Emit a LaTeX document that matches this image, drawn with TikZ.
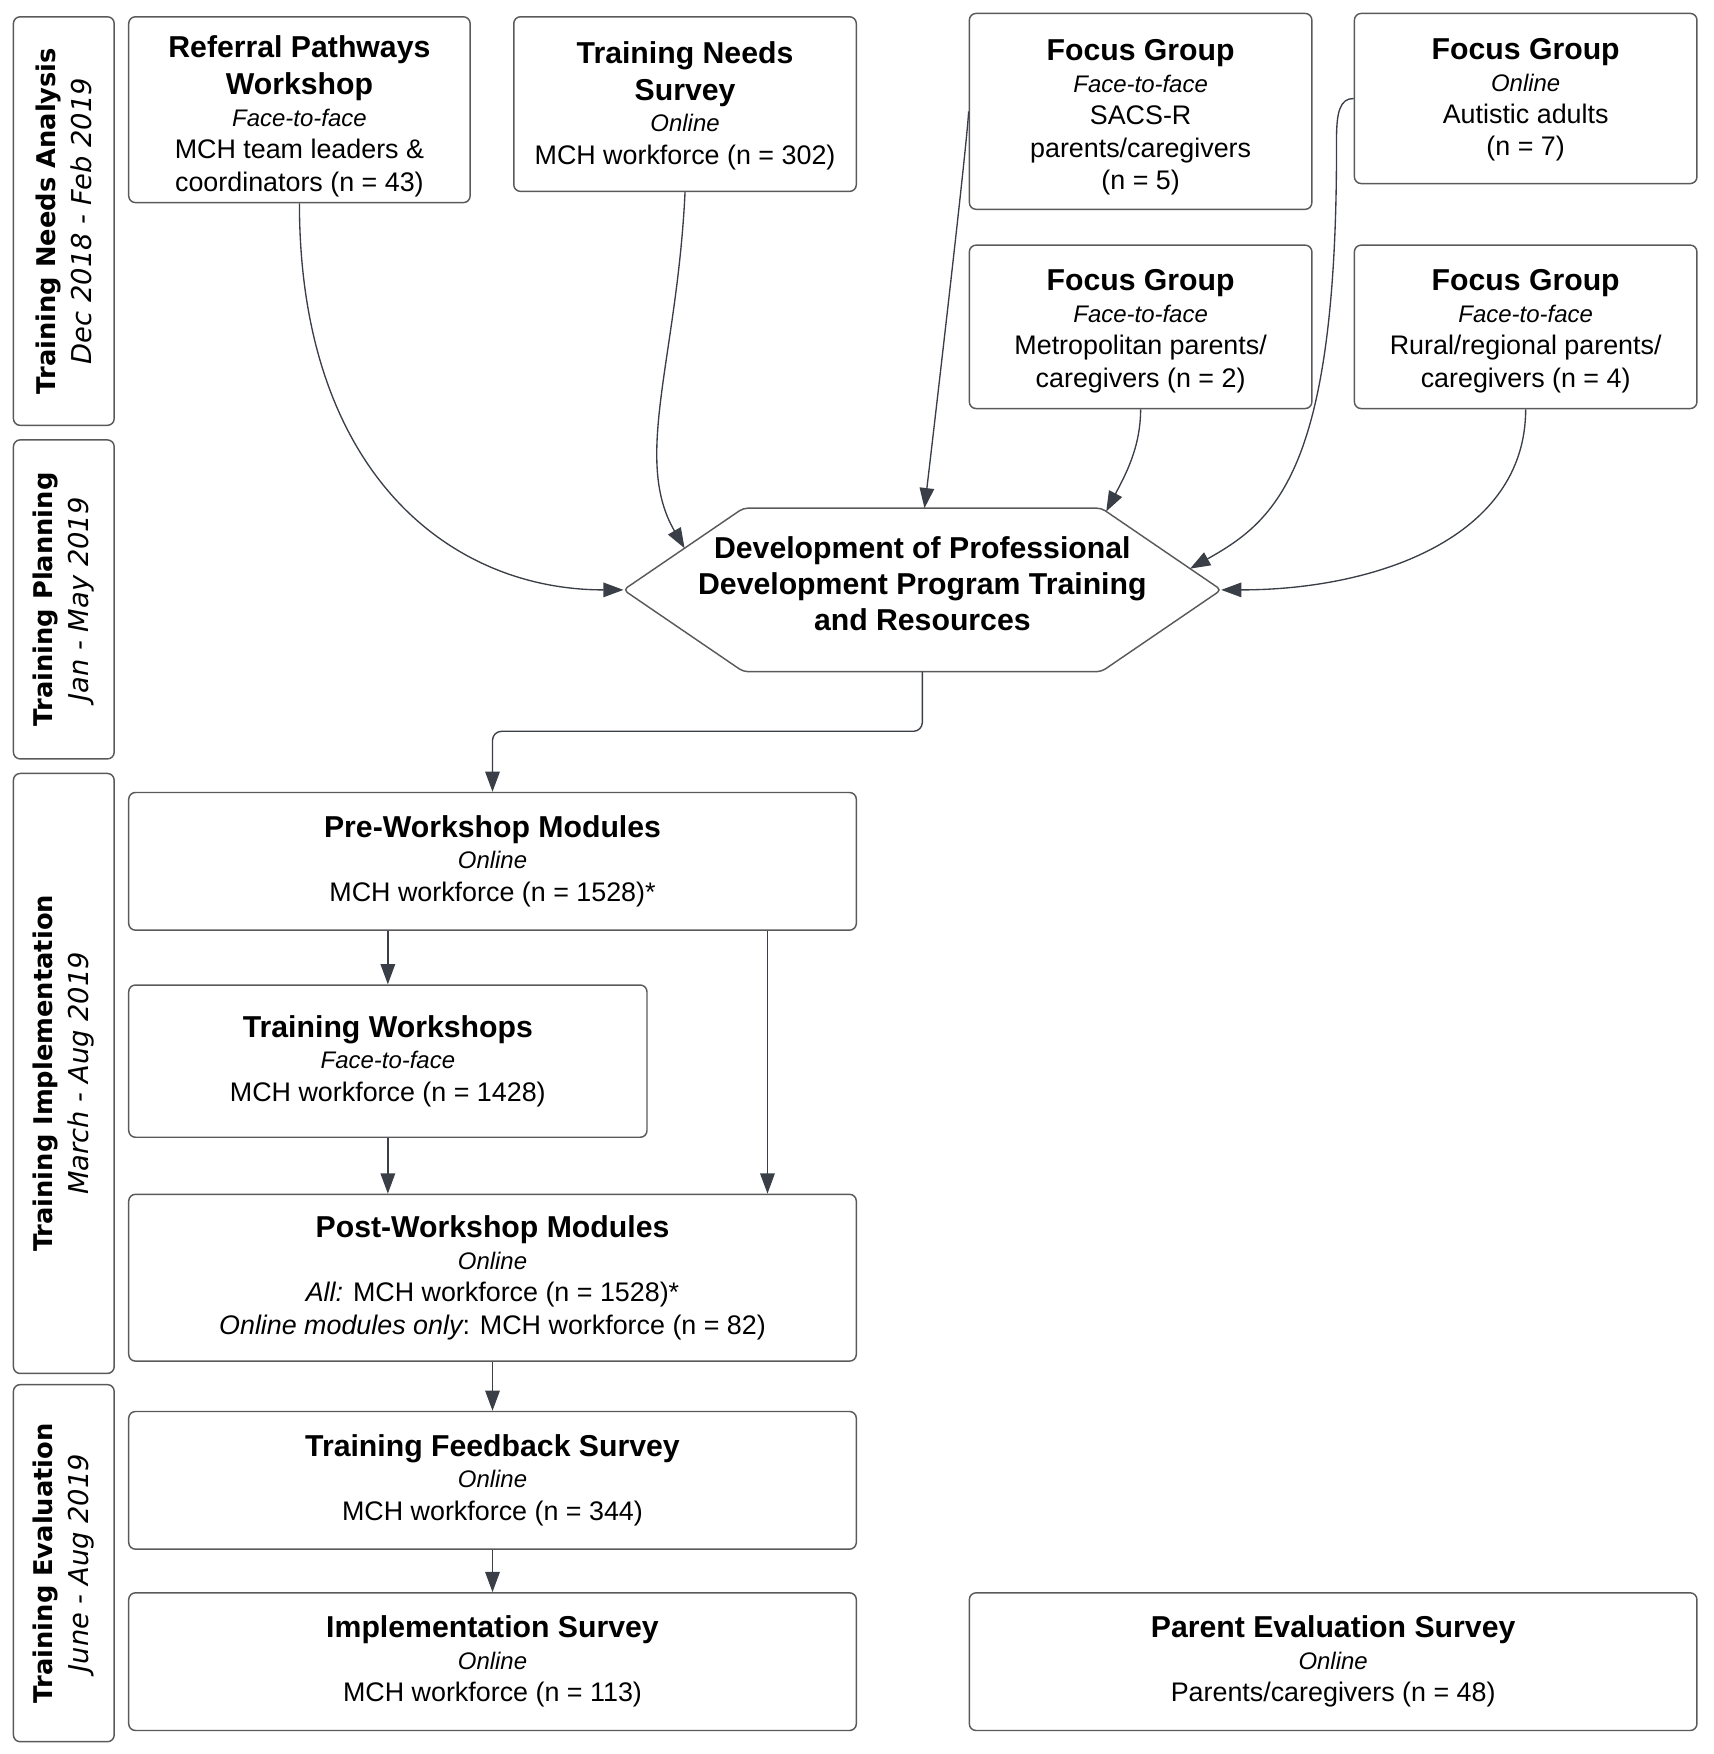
\documentclass[tikz,border=0pt]{standalone}
\usepackage{fontspec}
\setmainfont{Liberation Sans}
\newfontfamily\lanefont{DejaVu Sans}
\usetikzlibrary{arrows.meta,calc}
\definecolor{boxc}{HTML}{5A5A5A}
\definecolor{arrc}{HTML}{3A3F47}
\newcommand{\bttl}[1]{{\fontsize{13.5}{14}\selectfont\bfseries #1}}
\newcommand{\fmode}[1]{{\fontsize{10.7}{14}\selectfont\itshape #1}}
\newcommand{\lanedate}[1]{{\fontsize{12.2}{16}\selectfont\itshape #1}}
\newcommand{\topgap}[1]{\rule{0pt}{#1}}
\tikzset{
  box/.style={draw=boxc, line width=0.65pt, rounded corners=3pt, align=center,
    inner sep=2pt, font=\fontsize{12}{14}\selectfont},
  lane/.style={draw=boxc, line width=0.65pt, rounded corners=3pt, align=center,
    inner sep=0pt, rotate=90, minimum height=45pt,
    font=\lanefont\fontsize{11.5}{16}\selectfont},
  devtext/.style={align=center, inner sep=0pt,
    font=\fontsize{13.5}{16.25}\selectfont\bfseries},
  hexline/.style={draw=boxc, line width=0.65pt, rounded corners=2pt},
  arr/.style={draw=arrc, line width=0.6pt, -{Triangle[length=9pt,width=6.5pt]}},
}
\begin{document}
\begin{tikzpicture}[x=0.5pt,y=-0.5pt]
\useasboundingbox (0,0) rectangle (1530.4,1567);

% lanes
\node[lane, minimum width=182.5pt] (l1) at (57,197.5)
  {\textbf{Training Needs Analysis}\\\lanedate{Dec 2018 - Feb 2019}};
\node[lane, minimum width=142.5pt] (l2) at (57,535.5)
  {\textbf{Training Planning}\\\lanedate{Jan - May 2019}};
\node[lane, minimum width=268pt] (l3) at (57,959)
  {\textbf{Training Implementation}\\\lanedate{March - Aug 2019}};
\node[lane, minimum width=159.5pt] (l4) at (57,1396.5)
  {\textbf{Training Evaluation}\\\lanedate{June - Aug 2019}};

% top row
\node[box, minimum width=152.5pt, minimum height=83pt] (ref) at (267.5,98)
  {\topgap{15.8pt}\bttl{Referral Pathways}\\[2.5pt]\bttl{Workshop}\\\fmode{Face-to-face}\\[0.5pt]MCH team leaders \&\\[0.5pt]coordinators (n = 43)};
\node[box, minimum width=153pt, minimum height=78pt] (tns) at (612,93)
  {\topgap{11.3pt}\bttl{Training Needs}\\[2.5pt]\bttl{Survey}\\\fmode{Online}\\[0.5pt]MCH workforce (n = 302)};
\node[box, minimum width=153pt, minimum height=87.5pt] (fg1) at (1019,99.5)
  {\topgap{14.8pt}\bttl{Focus Group}\\\fmode{Face-to-face}\\[0.5pt]SACS-R\\[0.5pt]parents/caregivers\\[0.5pt](n = 5)};
\node[box, minimum width=153pt, minimum height=76pt] (fg2) at (1363,88)
  {\topgap{10.8pt}\bttl{Focus Group}\\\fmode{Online}\\[0.5pt]Autistic adults\\[0.5pt](n = 7)};
\node[box, minimum width=153pt, minimum height=73pt] (fg3) at (1019,292)
  {\topgap{13.3pt}\bttl{Focus Group}\\\fmode{Face-to-face}\\[0.5pt]Metropolitan parents/\\[0.5pt]caregivers (n = 2)};
\node[box, minimum width=153pt, minimum height=73pt] (fg4) at (1363,292)
  {\topgap{13.3pt}\bttl{Focus Group}\\\fmode{Face-to-face}\\[0.5pt]Rural/regional parents/\\[0.5pt]caregivers (n = 4)};

% hexagon
\coordinate (hexM) at (824,527);
\node[devtext] (dev) at ($(hexM)+(0,-5.5)$)
  {Development of Professional\\Development Program Training\\and Resources};
\coordinate (hexL)  at ($(hexM)+(-267,0)$);
\coordinate (hexTL) at ($(hexM)+(-160,-73)$);
\coordinate (hexTR) at ($(hexM)+(160,-73)$);
\coordinate (hexR)  at ($(hexM)+(267,0)$);
\coordinate (hexBR) at ($(hexM)+(160,73)$);
\coordinate (hexBL) at ($(hexM)+(-160,73)$);
\coordinate (hexBot) at ($(hexM)+(0,73)$);
\draw[hexline] (hexL) -- (hexTL) -- (hexTR) -- (hexR) -- (hexBR) -- (hexBL) -- cycle;
\coordinate (hexA) at ($(hexL)!0.51!(hexTL)$);
\coordinate (hexT) at ($(hexTL)!0.506!(hexTR)$);
\coordinate (hexC) at ($(hexTR)!0.04!(hexR)$);
\coordinate (hexB) at ($(hexTR)!0.74!(hexR)$);

% lower boxes
\node[box, minimum width=325pt, minimum height=61.5pt] (pre) at (440,769.5)
  {\bttl{Pre-Workshop Modules}\\\fmode{Online}\\[0.5pt]MCH workforce (n = 1528)*};
\node[box, minimum width=231.5pt, minimum height=68pt] (tw) at (346.5,948)
  {\bttl{Training Workshops}\\\fmode{Face-to-face}\\[0.5pt]MCH workforce (n = 1428)};
\node[box, minimum width=325pt, minimum height=74.5pt] (post) at (440,1141.5)
  {\bttl{Post-Workshop Modules}\\\fmode{Online}\\[0.5pt]{\itshape All:} MCH workforce (n = 1528)*\\[0.5pt]{\itshape Online modules only}: MCH workforce (n = 82)};
\node[box, minimum width=325pt, minimum height=61.5pt] (fb) at (440,1322.5)
  {\bttl{Training Feedback Survey}\\\fmode{Online}\\[0.5pt]MCH workforce (n = 344)};
\node[box, minimum width=325pt, minimum height=61.5pt] (impl) at (440,1484.5)
  {\bttl{Implementation Survey}\\\fmode{Online}\\[0.5pt]MCH workforce (n = 113)};
\node[box, minimum width=325pt, minimum height=61.5pt] (par) at (1191,1484.5)
  {\bttl{Parent Evaluation Survey}\\\fmode{Online}\\[0.5pt]Parents/caregivers (n = 48)};

% connectors into hexagon
\draw[arr] (ref.south) .. controls (267.5,420) and (400,527) .. (hexL);
\draw[arr] (tns.south) .. controls (605,320) and (565,410) .. (hexA);
\draw[arr] (fg1.west) .. controls (864,130) and (830,420) .. (hexT);
\draw[arr] (fg3.south) .. controls (1019,400) and (1005,425) .. (hexC);
\draw[arr] (fg2.west) .. controls (1197,88) and (1194,100) .. (1194,125)
  .. controls (1195,420) and (1140,465) .. (hexB);
\draw[arr] (fg4.south) .. controls (1363,480) and (1230,527) .. (hexR);

% flow
\draw[arr, rounded corners=4pt] (hexBot) |- ($(pre.north)+(0,-54)$) -- (pre.north);
\draw[arr] (tw.north |- pre.south) -- (tw.north);
\coordinate (pp) at ($(pre.south east)+(-80,0)$);
\draw[arr] (pp) -- (pp |- post.north);
\draw[arr] (tw.south) -- (tw.south |- post.north);
\draw[arr] (post.south) -- (fb.north);
\draw[arr] (fb.south) -- (impl.north);
\end{tikzpicture}
\end{document}
